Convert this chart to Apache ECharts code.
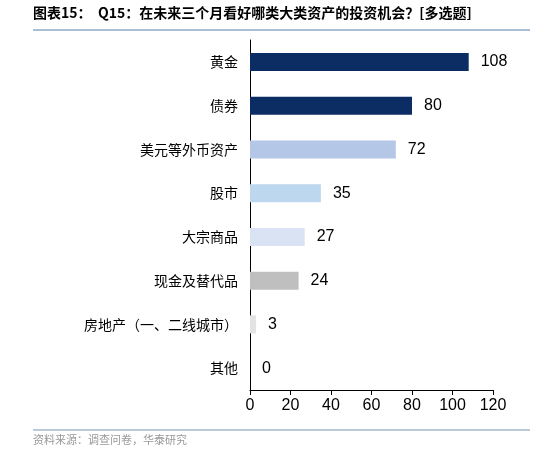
<!DOCTYPE html>
<html><head><meta charset="utf-8">
<script src="https://cdn.jsdelivr.net/npm/echarts@6/dist/echarts.min.js"></script>
<style>html,body{margin:0;background:#fff}#c{width:534px;height:455px}</style>
</head><body><div id="c"></div>
<script>
// 投资机会调查
const categories = ['黄金', '债券', '美元等外币资产', '股市', '大宗商品', '现金及替代品', '房地产（一、二线城市）', '其他'];
const values = [108, 80, 72, 35, 27, 24, 3, 0];
const barColors = ['#0b2d63', '#0b2d63', '#b4c7e7', '#bdd7ee', '#dae3f3', '#bfbfbf', '#e3e3e3', '#e3e3e3'];

let myChart = echarts.init(document.getElementById('c'));
let option = {
  animation: false,
  graphic: [
    { type: 'text', left: 33, top: 6, style: { text: '图表15：  Q15：在未来三个月看好哪类大类资产的投资机会？[多选题]', font: 'bold 14px "Noto Sans CJK SC"', fill: '#000' } },
    { type: 'line', shape: { x1: 33, y1: 30, x2: 530, y2: 30 }, style: { stroke: '#8ea9c8', lineWidth: 1.5 } },
    { type: 'line', shape: { x1: 33, y1: 430, x2: 530, y2: 430 }, style: { stroke: '#a5b8cc', lineWidth: 1.5 } },
    { type: 'text', left: 33, top: 434, style: { text: '资料来源：调查问卷，华泰研究', font: '11px "Noto Sans CJK SC"', fill: '#999' } }
  ],
  grid: { left: 250, right: 41, top: 40, bottom: 65 },
  xAxis: {
    type: 'value', min: 0, max: 120, interval: 20,
    splitLine: { show: false },
    axisLine: { show: true, lineStyle: { color: '#000' } },
    axisTick: { show: true, length: 5, lineStyle: { color: '#000' } },
    axisLabel: { color: '#000', fontSize: 16, fontFamily: 'Liberation Sans', margin: 8 }
  },
  yAxis: {
    type: 'category', inverse: true, data: categories,
    axisLine: { lineStyle: { color: '#000' } },
    axisTick: { show: false },
    axisLabel: { color: '#000', fontSize: 14, fontFamily: 'Noto Sans CJK SC', margin: 12 }
  },
  series: [{
    type: 'bar', data: values, barWidth: 18,
    itemStyle: { color: p => barColors[p.dataIndex] },
    label: { show: true, position: 'right', distance: 12, color: '#000', fontSize: 16, fontFamily: 'Liberation Sans' }
  }]
};
myChart.setOption(option);
</script></body></html>
